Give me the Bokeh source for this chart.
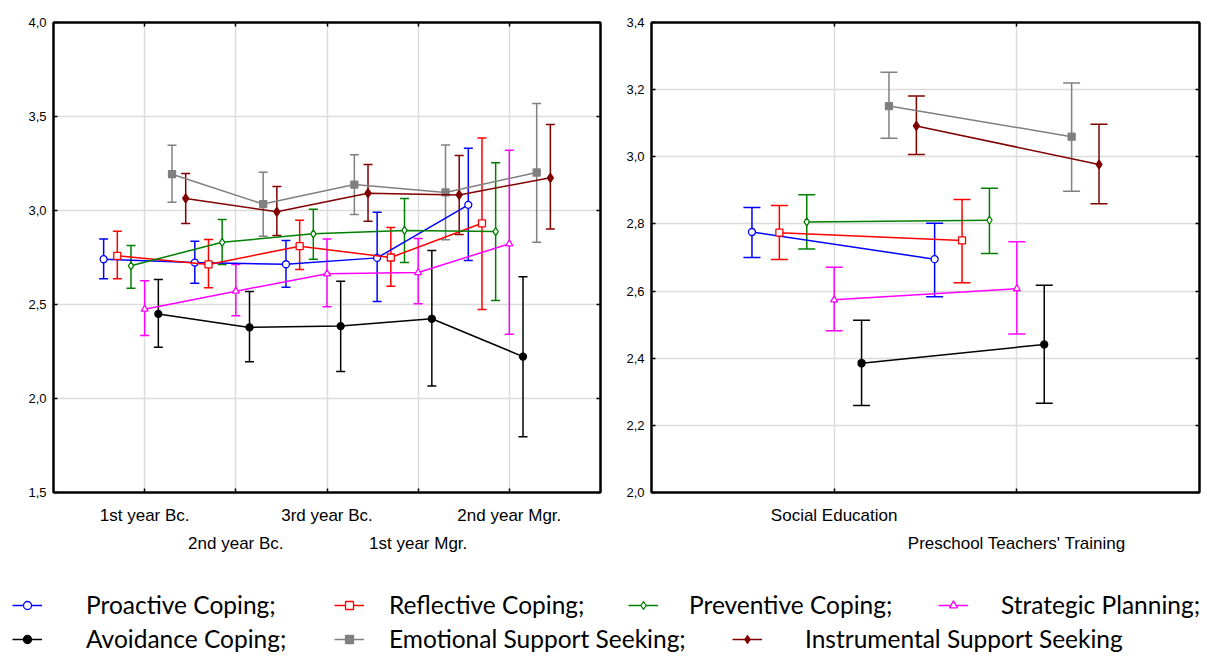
import numpy as np
from bokeh.plotting import figure
from bokeh.models import (ColumnDataSource, Range1d, FixedTicker, LinearAxis, Whisker, TeeHead,
                          CustomJSTickFormatter, Legend, LegendItem)
from bokeh.layouts import column, row
from bokeh.embed import file_html
from bokeh.resources import INLINE

# ---------------- data ----------------
years = ["1st year Bc.", "2nd year Bc.", "3rd year Bc.", "1st year Mgr.", "2nd year Mgr."]
fields = ["Social Education", "Preschool Teachers' Training"]

legend_labels = ["Proactive Coping;", "Reflective Coping;", "Preventive Coping;", "Strategic Planning;",
                 "Avoidance Coping;", "Emotional Support Seeking;", "Instrumental Support Seeking"]

# left panel: by study year (mean, lower and upper limit of the error bar)
proactive_year = [2.741, 2.723, 2.714, 2.748, 3.030]
proactive_year_lo = [2.637, 2.613, 2.592, 2.516, 2.734]
proactive_year_hi = [2.849, 2.837, 2.840, 2.991, 3.331]
reflective_year = [2.759, 2.713, 2.810, 2.750, 2.932]
reflective_year_lo = [2.637, 2.589, 2.686, 2.597, 2.473]
reflective_year_hi = [2.890, 2.846, 2.948, 2.910, 3.385]
preventive_year = [2.706, 2.831, 2.876, 2.894, 2.888]
preventive_year_lo = [2.587, 2.713, 2.741, 2.723, 2.521]
preventive_year_hi = [2.814, 2.952, 3.007, 3.064, 3.254]
strategic_year = [2.475, 2.571, 2.663, 2.670, 2.823]
strategic_year_lo = [2.335, 2.440, 2.488, 2.504, 2.342]
strategic_year_hi = [2.626, 2.713, 2.848, 2.851, 3.321]
avoidance_year = [2.450, 2.378, 2.385, 2.424, 2.223]
avoidance_year_lo = [2.273, 2.195, 2.144, 2.066, 1.796]
avoidance_year_hi = [2.633, 2.569, 2.624, 2.787, 2.647]
emotional_year = [3.193, 3.034, 3.138, 3.096, 3.202]
emotional_year_lo = [3.044, 2.863, 2.979, 2.844, 2.831]
emotional_year_hi = [3.347, 3.204, 3.296, 3.349, 3.569]
instrumental_year = [3.064, 2.993, 3.092, 3.083, 3.174]
instrumental_year_lo = [2.931, 2.867, 2.943, 2.872, 2.902]
instrumental_year_hi = [3.197, 3.128, 3.245, 3.293, 3.457]

# right panel: by field of study
proactive_field = [2.776, 2.695]
proactive_field_lo = [2.700, 2.583]
proactive_field_hi = [2.849, 2.802]
reflective_field = [2.774, 2.751]
reflective_field_lo = [2.694, 2.625]
reflective_field_hi = [2.855, 2.873]
preventive_field = [2.806, 2.811]
preventive_field_lo = [2.725, 2.712]
preventive_field_hi = [2.887, 2.906]
strategic_field = [2.574, 2.607]
strategic_field_lo = [2.482, 2.472]
strategic_field_hi = [2.671, 2.747]
avoidance_field = [2.385, 2.441]
avoidance_field_lo = [2.259, 2.266]
avoidance_field_hi = [2.513, 2.617]
emotional_field = [3.151, 3.060]
emotional_field_lo = [3.055, 2.897]
emotional_field_hi = [3.252, 3.220]
instrumental_field = [3.092, 2.977]
instrumental_field_lo = [3.007, 2.860]
instrumental_field_hi = [3.181, 3.097]

# ---------------- style ----------------
colors = ["#0000FF", "#FF0000", "#008000", "#FF00FF", "#000000", "#808080", "#800000"]
markers = ["circle", "square", "diamond", "triangle", "circle", "square", "diamond"]
marker_sizes = [7, 7, 8, 7, 7, 7, 9]
filled = [False, False, False, False, True, True, True]
OFFSET = 0.15
TICK_FONT = "Liberation Sans"
GRID = "#DCDCDC"

year_means = [proactive_year, reflective_year, preventive_year, strategic_year,
              avoidance_year, emotional_year, instrumental_year]
year_lows = [proactive_year_lo, reflective_year_lo, preventive_year_lo, strategic_year_lo,
             avoidance_year_lo, emotional_year_lo, instrumental_year_lo]
year_highs = [proactive_year_hi, reflective_year_hi, preventive_year_hi, strategic_year_hi,
              avoidance_year_hi, emotional_year_hi, instrumental_year_hi]
field_means = [proactive_field, reflective_field, preventive_field, strategic_field,
               avoidance_field, emotional_field, instrumental_field]
field_lows = [proactive_field_lo, reflective_field_lo, preventive_field_lo, strategic_field_lo,
              avoidance_field_lo, emotional_field_lo, instrumental_field_lo]
field_highs = [proactive_field_hi, reflective_field_hi, preventive_field_hi, strategic_field_hi,
               avoidance_field_hi, emotional_field_hi, instrumental_field_hi]


def edge_axis(ticks):
    """An axis that only shows inward tick marks (as minor ticks, so no labels)."""
    a = LinearAxis(ticker=FixedTicker(ticks=[], minor_ticks=ticks))
    a.minor_tick_in = 4
    a.minor_tick_out = 0
    a.minor_tick_line_color = "black"
    a.minor_tick_line_width = 1.5
    a.major_tick_line_color = None
    a.axis_line_width = 2
    a.axis_line_color = "black"
    a.major_label_standoff = 0
    return a


def panel(cats, means, lows, highs, y_start, y_end, y_step, cap, width, mb_left, mb_right):
    n = len(cats)
    pos = list(range(1, n + 1))
    odd = pos[0::2]
    even = pos[1::2]
    yticks = [round(v, 2) for v in np.arange(y_start, y_end + y_step / 2, y_step)]
    p = figure(width=width, height=570, x_range=Range1d(0, n + 1), y_range=Range1d(y_start, y_end),
               output_backend="svg", toolbar_location=None,
               min_border_left=mb_left, min_border_right=mb_right, min_border_top=22, min_border_bottom=78,
               background_fill_color="white", border_fill_color="white",
               outline_line_color="black", outline_line_width=2)

    # grid
    p.xgrid.ticker = FixedTicker(ticks=pos)
    p.ygrid.ticker = FixedTicker(ticks=yticks)
    p.grid.grid_line_color = GRID
    p.grid.grid_line_width = 1.5

    # bottom axis: first row of category labels, second row on a further axis
    ax = p.xaxis[0]
    ax.ticker = FixedTicker(ticks=odd, minor_ticks=even)
    ax.major_label_overrides = {pos[i]: cats[i] for i in range(0, n, 2)}
    ax2 = LinearAxis(ticker=FixedTicker(ticks=even),
                     major_label_overrides={pos[i]: cats[i] for i in range(1, n, 2)})
    p.add_layout(ax2, "below")
    for a in (ax, ax2):
        a.major_label_text_font = TICK_FONT
        a.major_label_text_font_size = "17px"
        a.major_label_text_color = "black"
        a.major_tick_in = 4
        a.major_tick_out = 0
        a.major_tick_line_color = "black"
        a.major_tick_line_width = 1.5
        a.minor_tick_in = 4
        a.minor_tick_out = 0
        a.minor_tick_line_color = "black"
        a.minor_tick_line_width = 1.5
        a.axis_line_color = "black"
        a.axis_line_width = 2
    ax.major_label_standoff = 13
    ax2.axis_line_color = None
    ax2.major_tick_line_color = None
    ax2.minor_tick_line_color = None
    ax2.major_label_standoff = 6

    ay = p.yaxis[0]
    ay.ticker = FixedTicker(ticks=yticks)
    ay.formatter = CustomJSTickFormatter(code="return tick.toFixed(1).replace('.', ',');")
    ay.major_label_text_font = TICK_FONT
    ay.major_label_text_font_size = "13px"
    ay.major_label_text_color = "black"
    ay.major_label_standoff = 7
    ay.minor_tick_line_color = None
    ay.major_tick_in = 4
    ay.major_tick_out = 0
    ay.major_tick_line_width = 1.5
    ay.axis_line_color = "black"
    ay.axis_line_width = 2

    # tick marks on top and right edges
    p.add_layout(edge_axis(pos), "above")
    p.add_layout(edge_axis(yticks), "right")

    for k in range(len(means)):
        c = colors[k]
        xs = [pv + (k - 3) * OFFSET for pv in pos]
        src = ColumnDataSource(dict(x=xs, y=means[k], lo=lows[k], hi=highs[k]))
        p.line("x", "y", source=src, line_color=c, line_width=1.5)
        w = Whisker(source=src, base="x", lower="lo", upper="hi", dimension="height",
                    line_color=c, line_width=1.5,
                    lower_head=TeeHead(size=cap, line_color=c, line_width=1.5),
                    upper_head=TeeHead(size=cap, line_color=c, line_width=1.5))
        p.add_layout(w)
        p.scatter("x", "y", source=src, marker=markers[k], size=marker_sizes[k],
                  line_color=c, line_width=1.3, fill_color=c if filled[k] else "white")
    return p


p1 = panel(years, year_means, year_lows, year_highs, 1.5, 4.0, 0.5, 9, 607, 53, 7)
p2 = panel(fields, field_means, field_lows, field_highs, 2.0, 3.4, 0.2, 17, 601, 44, 9)

# ---------------- legend strip ----------------
lf = figure(width=1232, height=92, x_range=Range1d(0, 1), y_range=Range1d(0, 1),
            output_backend="svg", toolbar_location=None, min_border=0,
            outline_line_color=None, background_fill_color="white", border_fill_color="white")
lf.axis.visible = False
lf.grid.visible = False

# (x of icon, y of box bottom, label standoff) for each entry
legend_places = [(12, 43, 44), (334, 43, 25), (628, 43, 31), (938, 43, 33),
                 (12, 9, 44), (334, 9, 25), (732, 9, 43)]
nothing = ColumnDataSource(dict(x=[np.nan], y=[np.nan]))
for k, lab in enumerate(legend_labels):
    c = colors[k]
    rl = lf.line("x", "y", source=nothing, line_color=c, line_width=1.5)
    rs = lf.scatter("x", "y", source=nothing, marker=markers[k], size=marker_sizes[k] + 1,
                    line_color=c, line_width=1.3, fill_color=c if filled[k] else "white")
    lx, ly, st = legend_places[k]
    leg = Legend(items=[LegendItem(label=lab, renderers=[rl, rs])], location=(lx, ly),
                 padding=0, margin=0, spacing=0, border_line_color=None, background_fill_alpha=0,
                 glyph_width=30, glyph_height=20, label_height=20, label_standoff=st,
                 label_text_font="Lato", label_text_font_size="24.5px", label_text_color="black")
    lf.add_layout(leg)

layout = column(row(p1, p2), lf)
open("out.html", "w").write(file_html(layout, INLINE))
